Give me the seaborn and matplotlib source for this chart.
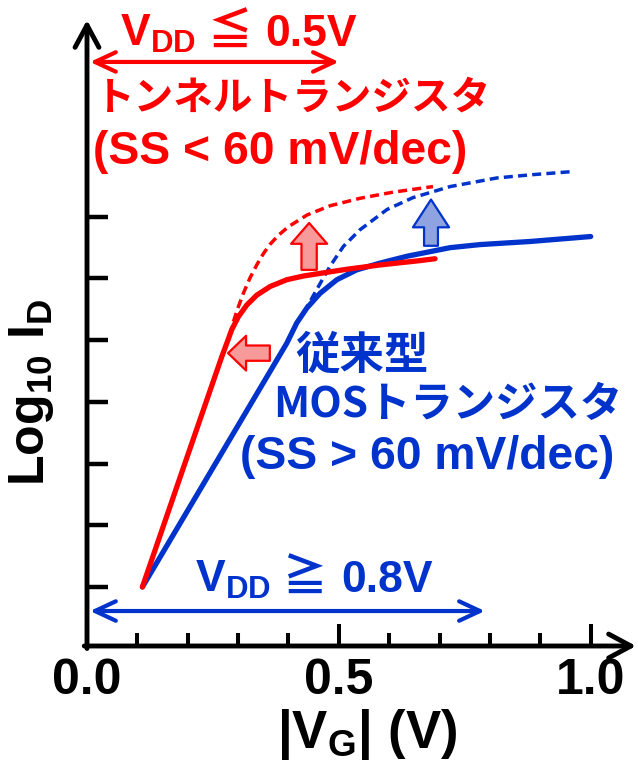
import matplotlib
matplotlib.use("Agg")
import matplotlib.pyplot as plt
import seaborn as sns

# ---- data: |VG| (V) and log10 ID (decades, arbitrary offset) ----
tfet_vg = [0.11, 0.19, 0.2675, 0.2775, 0.2874, 0.3005, 0.3172, 0.337, 0.3635, 0.3966,
           0.4296, 0.476, 0.516, 0.582, 0.661, 0.691]
tfet_logid = [1.0, 2.9, 4.73, 4.95, 5.17, 5.38, 5.57, 5.73, 5.87, 5.98,
              6.04, 6.10, 6.15, 6.22, 6.29, 6.32]

tfet_ideal_vg = [0.283, 0.2906, 0.3005, 0.3104, 0.3237, 0.337, 0.350, 0.363, 0.38, 0.40,
                 0.437, 0.483, 0.542, 0.608, 0.687]
tfet_ideal_logid = [5.08, 5.30, 5.54, 5.76, 6.01, 6.22, 6.40, 6.55, 6.70, 6.84,
                    7.03, 7.18, 7.30, 7.40, 7.49]

mos_vg = [0.11, 0.25, 0.3966, 0.4165, 0.4364, 0.4628, 0.496, 0.5356, 0.582, 0.635,
          0.721, 0.781, 0.880, 1.0]
mos_logid = [1.0, 2.93, 4.95, 5.28, 5.52, 5.76, 5.98, 6.14, 6.25, 6.36,
             6.50, 6.55, 6.60, 6.68]

mos_ideal_vg = [0.43, 0.443, 0.463, 0.4826, 0.509, 0.542, 0.596, 0.647, 0.721, 0.814,
                0.880, 0.959]
mos_ideal_logid = [5.45, 5.63, 5.92, 6.20, 6.52, 6.79, 7.12, 7.31, 7.49, 7.63,
                   7.68, 7.73]

x_major = [0.0, 0.5, 1.0]
x_major_labels = ["0.0", "0.5", "1.0"]
x_minor = [0.1, 0.2, 0.3, 0.4, 0.6, 0.7, 0.8, 0.9]
y_ticks = [1, 2, 3, 4, 5, 6, 7]

vdd_tfet = 0.5
vdd_mos = 0.79

RED = "#ff0000"
BLUE = "#0033cc"

sns.set_theme(style="white")
plt.rcParams['font.family'] = ['Liberation Sans', 'Noto Sans CJK JP', 'DejaVu Sans']
plt.rcParams['font.weight'] = 'bold'
plt.rcParams['mathtext.fontset'] = 'custom'
plt.rcParams['mathtext.rm'] = 'Liberation Sans:bold'
plt.rcParams['mathtext.bf'] = 'Liberation Sans:bold'
plt.rcParams['mathtext.it'] = 'Liberation Sans:bold'
plt.rcParams['mathtext.sf'] = 'Liberation Sans:bold'
plt.rcParams['mathtext.fallback'] = 'stixsans'

W, H = 638, 763
fig = plt.figure(figsize=(W / 100, H / 100), dpi=100)
ax = fig.add_axes([87 / W, 1 - 646 / H, (636 - 87) / W, (646 - 20) / H])

def P(x, y):
    return (x / W, 1 - y / H)

# curves
sns.lineplot(x=mos_ideal_vg, y=mos_ideal_logid, ax=ax, color=BLUE, linewidth=2.5,
             linestyle=(0, (2.6, 1.5)))
sns.lineplot(x=tfet_ideal_vg, y=tfet_ideal_logid, ax=ax, color=RED, linewidth=2.5,
             linestyle=(0, (2.6, 1.5)))
sns.lineplot(x=mos_vg, y=mos_logid, ax=ax, color=BLUE, linewidth=3.8)
sns.lineplot(x=tfet_vg, y=tfet_logid, ax=ax, color=RED, linewidth=3.8)
for ln in ax.get_lines():
    ln.set_solid_joinstyle('round')
    ln.set_dash_joinstyle('round')

ax.set_xlim(0, 1.09)
ax.set_ylim(0.043, 10.19)
ax.set_xlabel("")
ax.set_ylabel("")
for s in ax.spines.values():
    s.set_visible(False)

ax.set_xticks(x_major)
ax.set_xticklabels(x_major_labels)
ax.set_xticks(x_minor, minor=True)
ax.set_yticks(y_ticks)
ax.set_yticklabels([])
ax.tick_params(axis='x', which='major', direction='in', bottom=True, length=16, width=2.9,
               pad=9, labelsize=36, colors='black')
ax.tick_params(axis='x', which='minor', direction='in', bottom=True, length=9.4, width=2.9,
               colors='black')
ax.tick_params(axis='y', which='major', direction='in', left=True, length=15, width=3.2,
               colors='black')
for lbl in ax.get_xticklabels():
    lbl.set_fontweight('bold')

# axis arrows
axis_arrow = dict(arrowstyle='->,head_length=16,head_width=8.6', mutation_scale=1, lw=3.5,
                  color='black', shrinkA=0, shrinkB=0)
ax.annotate('', xy=(1, 0), xytext=(-0.005, 0), xycoords='axes fraction',
            arrowprops=axis_arrow, annotation_clip=False)
ax.annotate('', xy=(0, 1), xytext=(0, -0.004), xycoords='axes fraction',
            arrowprops=axis_arrow, annotation_clip=False)

# VDD range arrows
ax.annotate('', xy=(vdd_tfet, 9.51), xytext=(0.006, 9.51),
            arrowprops=dict(arrowstyle='<->,head_length=15,head_width=7', mutation_scale=1,
                            lw=3, color=RED, shrinkA=0, shrinkB=0), annotation_clip=False)
ax.annotate('', xy=(vdd_mos, 0.61), xytext=(0.006, 0.61),
            arrowprops=dict(arrowstyle='<->,head_length=15,head_width=7', mutation_scale=1,
                            lw=3, color=BLUE, shrinkA=0, shrinkB=0), annotation_clip=False)

# block arrows
def block(tip, tail, fc, ec, hl, hw, tw):
    ax.annotate('', xy=tip, xytext=tail,
                arrowprops=dict(arrowstyle=f'simple,head_length={hl},head_width={hw},tail_width={tw}',
                                mutation_scale=1, fc=fc, ec=ec, lw=1.6, shrinkA=0, shrinkB=0))

block((0.441, 6.90), (0.441, 6.14), '#f99a9a', RED, 15, 26, 11)
block((0.683, 7.28), (0.683, 6.53), '#8ea3e0', BLUE, 20, 26, 10)
block((0.280, 4.79), (0.363, 4.79), '#f99a9a', RED, 13, 25, 11)

# texts
CJK = ['Noto Sans CJK JP']
fig.text(*P(120, 46), r'$\mathbf{V_{DD}}$', ha='left', va='baseline', fontsize=32, color=RED)
fig.text(*P(230, 46), '≦', ha='center', va='baseline', fontsize=32, family=CJK,
         weight='bold', color=RED)
fig.text(*P(265, 46), '0.5V', ha='left', va='baseline', fontsize=32, weight='bold', color=RED)

fig.text(*P(95, 98), 'トンネルトランジスタ', ha='left', va='center', fontsize=28.5,
         family=CJK, weight='bold', color=RED)
fig.text(*P(93, 152), '(SS < 60 mV/dec)', ha='left', va='center', fontsize=33.3,
         weight='bold', color=RED)
fig.text(*P(362, 356), '従来型', ha='center', va='center', fontsize=32,
         family=CJK, weight='bold', color=BLUE)
fig.text(*P(448, 405), 'MOSトランジスタ', ha='center', va='center', fontsize=30.5,
         family=CJK, weight='bold', color=BLUE)
fig.text(*P(240, 457), '(SS > 60 mV/dec)', ha='left', va='center', fontsize=33.3,
         weight='bold', color=BLUE)

fig.text(*P(195, 592), r'$\mathbf{V_{DD}}$', ha='left', va='baseline', fontsize=32, color=BLUE)
fig.text(*P(305, 592), '≧', ha='center', va='baseline', fontsize=32, family=CJK,
         weight='bold', color=BLUE)
fig.text(*P(341, 592), '0.8V', ha='left', va='baseline', fontsize=32, weight='bold', color=BLUE)

fig.text(*P(32, 392), r'$\mathbf{Log_{10}\ I_D}$', rotation=90, ha='center', va='center',
         fontsize=36, color='black')
fig.text(*P(367, 748), r'$\mathbf{|V_G|\ (V)}$', ha='center', va='baseline',
         fontsize=38, color='black')

fig.savefig('out.png', dpi=100)
